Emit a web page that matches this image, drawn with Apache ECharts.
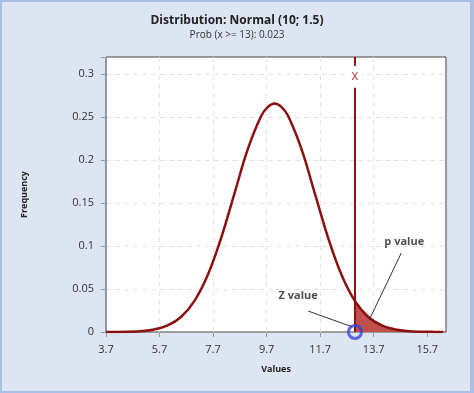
<!DOCTYPE html>
<html>
<head>
<meta charset="utf-8">
<script src="https://cdn.jsdelivr.net/npm/echarts@6/dist/echarts.min.js"></script>
<style>
html,body{margin:0;padding:0;background:#dde4f2;}
#chart{width:474px;height:393px;position:absolute;left:0;top:0;}
#frame{position:absolute;left:0;top:0;width:474px;height:393px;box-sizing:border-box;border:2px solid #a9bfe6;border-right-width:4px;pointer-events:none;}
</style>
</head>
<body>
<div id="chart"></div>
<div id="frame"></div>
<script>
// Values
const xValues = [3.7, 4.5, 5, 5.5, 6, 6.5, 7, 7.5, 8, 8.5, 9, 9.5, 9.75, 10, 10.25, 10.5, 11, 11.5, 12, 12.5, 13, 13.5, 14, 14.5, 15, 15.5, 16, 16.3];
const frequency = [0, 0.0003, 0.001, 0.003, 0.0076, 0.0175, 0.036, 0.0663, 0.1093, 0.1613, 0.213, 0.2516, 0.262, 0.266, 0.262, 0.2516, 0.213, 0.1613, 0.1093, 0.0663, 0.036, 0.0175, 0.0076, 0.003, 0.001, 0.0003, 0.0001, 0];
const xTickLabels = ['3.7', '5.7', '7.7', '9.7', '11.7', '13.7', '15.7'];
const yTickLabels = ['0', '0.05', '0.1', '0.15', '0.2', '0.25', '0.3'];
const criticalX = 13;
const probText = 'Prob (x >= 13): 0.023';

const xOrigin = 3.7;
const xMaxShift = 12.7;
const yMax = 0.32;

const sx = v => +(v - xOrigin).toFixed(4);
const curve = xValues.map((x, i) => [sx(x), frequency[i]]);
const tail = xValues.map((x, i) => [x, frequency[i]]).filter(p => p[0] >= criticalX).map(p => [sx(p[0]), p[1]]);

const zLine = [[sx(11.25), 0.0244], [sx(12.9), 0.006]];
const pLine = [[sx(14.73), 0.092], [sx(13.53), 0.014]];

const chart = echarts.init(document.getElementById('chart'));
const lab = v => {
  const i = Math.round(v / 2);
  return Math.abs(v - 2 * i) < 1e-6 && xTickLabels[i] !== undefined ? xTickLabels[i] : '';
};
const ylab = v => {
  const i = Math.round(v / 0.05);
  return Math.abs(v - 0.05 * i) < 1e-6 && yTickLabels[i] !== undefined ? yTickLabels[i] : '';
};
chart.setOption({
  backgroundColor: '#dde4f2',
  animation: false,
  title: {
    text: 'Distribution: Normal (10; 1.5)',
    subtext: probText,
    left: 'center',
    top: 10,
    itemGap: 3,
    textStyle: {fontFamily: 'Open Sans', fontSize: 12, fontWeight: 'bold', color: '#222'},
    subtextStyle: {fontFamily: 'Open Sans', fontSize: 10, color: '#333'}
  },
  grid: {left: 106, right: 28, top: 57, bottom: 61, show: true, backgroundColor: '#fff', borderColor: '#444', borderWidth: 1},
  xAxis: {
    type: 'value', min: 0, max: xMaxShift, interval: 2,
    name: 'Values', nameLocation: 'middle', nameGap: 33,
    nameTextStyle: {fontFamily: 'Open Sans', fontSize: 9, fontWeight: 'bold', color: '#222'},
    axisLine: {show: true, lineStyle: {color: '#999'}},
    axisTick: {show: true, length: 5, lineStyle: {color: '#999'}, customValues: [0, 2, 4, 6, 8, 10, 12]},
    axisLabel: {formatter: lab, fontFamily: 'Open Sans', fontSize: 11, color: '#333', margin: 12, customValues: [0, 2, 4, 6, 8, 10, 12]},
    splitLine: {show: true, showMaxLine: false, lineStyle: {color: '#e4e4e4', type: [5, 4]}}
  },
  yAxis: {
    type: 'value', min: 0, max: yMax, interval: 0.05,
    name: 'Frequency', nameLocation: 'middle', nameGap: 77,
    nameTextStyle: {fontFamily: 'Open Sans', fontSize: 9, fontWeight: 'bold', color: '#222'},
    axisLine: {show: true, lineStyle: {color: '#999'}},
    axisTick: {show: true, length: 5, lineStyle: {color: '#999'}},
    axisLabel: {formatter: ylab, fontFamily: 'Open Sans', fontSize: 11, color: '#333', margin: 12},
    splitLine: {show: true, showMaxLine: false, lineStyle: {color: '#e4e4e4', type: [5, 4]}}
  },
  series: [
    {
      type: 'line', data: tail, smooth: true, symbol: 'none',
      lineStyle: {width: 0}, areaStyle: {color: '#c0504d', opacity: 1}, z: 2
    },
    {
      type: 'line', data: curve, smooth: 0.4, symbol: 'none',
      lineStyle: {color: '#8b1111', width: 2.5}, z: 3
    },
    {
      type: 'line', data: [[sx(criticalX), 0], [sx(criticalX), yMax]], symbol: 'none',
      lineStyle: {color: '#8b1111', width: 2}, z: 4,
      markPoint: {
        symbol: 'rect', symbolSize: [12, 22], itemStyle: {color: '#fff'},
        data: [{coord: [sx(criticalX), 0.297], label: {show: true, formatter: 'X', color: '#b02020', fontFamily: 'Open Sans', fontSize: 11}}]
      }
    },
    {
      type: 'line', data: zLine, symbol: 'none', lineStyle: {color: '#333', width: 1}, z: 5
    },
    {
      type: 'line', data: pLine, symbol: 'none', lineStyle: {color: '#333', width: 1}, z: 5
    },
    {
      type: 'scatter', symbolSize: 0, z: 6,
      data: [
        {value: [sx(10.88), 0.0419], label: {show: true, position: 'inside', formatter: 'Z value'}},
        {value: [sx(14.84), 0.1047], label: {show: true, position: 'inside', formatter: 'p value'}}
      ],
      label: {fontFamily: 'Open Sans', fontSize: 11, fontWeight: 'bold', color: '#222'}
    },
    {
      type: 'scatter', clip: false, z: 7,
      data: [[sx(criticalX), 0]], symbol: 'circle', symbolSize: 13,
      itemStyle: {color: 'rgba(255,255,255,0)', borderColor: '#3344d8', borderWidth: 3}
    }
  ]
});
</script>
</body>
</html>
